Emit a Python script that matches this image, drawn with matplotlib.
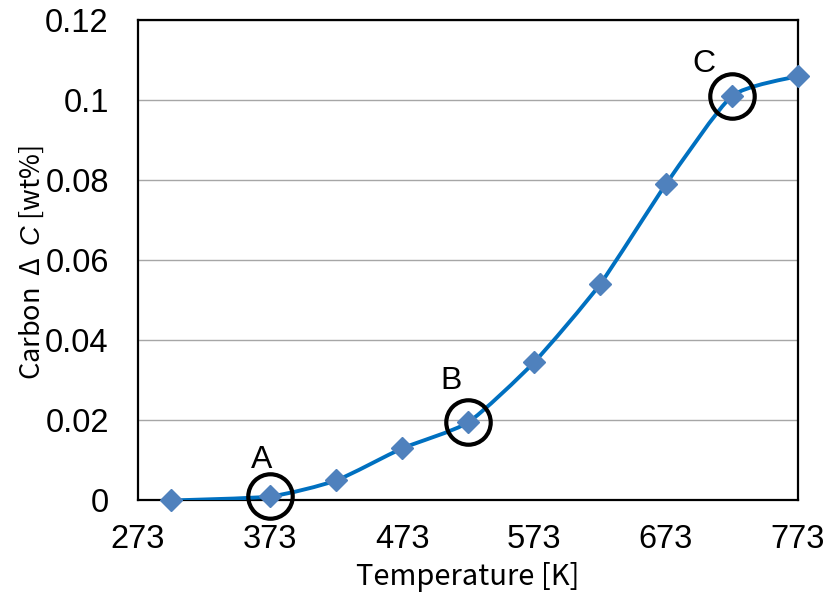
import matplotlib
matplotlib.use("Agg")
import matplotlib.pyplot as plt
from matplotlib.path import Path
from matplotlib.patches import PathPatch
import numpy as np

# Carbon uptake versus temperature
temperature = [298, 373, 423, 473, 523, 573, 623, 673, 723, 773]
carbon = [0.0, 0.001, 0.005, 0.013, 0.0195, 0.0345, 0.054, 0.079, 0.101, 0.106]

# Highlighted states
mark_labels = ["A", "B", "C"]
mark_temp = [373, 523, 723]
mark_carbon = [0.001, 0.0195, 0.101]

x_ticks = [273, 373, 473, 573, 673, 773]
y_ticks = [0, 0.02, 0.04, 0.06, 0.08, 0.1, 0.12]
y_tick_labels = ["0", "0.02", "0.04", "0.06", "0.08", "0.1", "0.12"]

plt.rcParams["mathtext.fontset"] = "custom"
plt.rcParams["mathtext.it"] = "Liberation Sans:italic"
plt.rcParams["mathtext.rm"] = "Noto Sans CJK JP"

LINE = "#0070C0"
MARK = "#4F81BD"

fig = plt.figure(figsize=(8.30, 6.03), dpi=100)
ax = fig.add_axes([0.1663, 0.170, 0.7951, 0.7968])

# Lightly smoothed connecting curve (cubic Bezier segments)
pts = np.column_stack([temperature, carbon]).astype(float)
verts = [tuple(pts[0])]
codes = [Path.MOVETO]
n = len(pts)
k = 1.0 / 10.0
for i in range(n - 1):
    p0 = pts[i - 1] if i > 0 else pts[i]
    p1 = pts[i]
    p2 = pts[i + 1]
    p3 = pts[i + 2] if i + 2 < n else pts[i + 1]
    c1 = p1 + (p2 - p0) * k
    c2 = p2 - (p3 - p1) * k
    verts += [tuple(c1), tuple(c2), tuple(p2)]
    codes += [Path.CURVE4, Path.CURVE4, Path.CURVE4]
ax.add_patch(PathPatch(Path(verts, codes), fill=False, edgecolor=LINE,
                       linewidth=2.8, zorder=3, capstyle="round", joinstyle="round"))

ax.plot(temperature, carbon, linestyle="none", marker="D", markersize=11,
        color=MARK, markeredgecolor=MARK, zorder=4, clip_on=False)

ax.plot(mark_temp, mark_carbon, linestyle="none", marker="o", markersize=32,
        markerfacecolor="none", markeredgecolor="black", markeredgewidth=3,
        zorder=5, clip_on=False)
label_offsets = [(-6, 0.0090), (-13, 0.0103), (-21, 0.0081)]
for lab, tx, cy, (dx, dy) in zip(mark_labels, mark_temp, mark_carbon, label_offsets):
    ax.text(tx + dx, cy + dy, lab, fontsize=23, family="Liberation Sans",
            ha="center", va="center", zorder=6)

ax.set_xlim(273, 773)
ax.set_ylim(0, 0.12)
ax.set_xticks(x_ticks)
ax.set_yticks(y_ticks)
ax.set_yticklabels(y_tick_labels)
ax.tick_params(axis="x", length=0, labelsize=23.5, pad=17)
ax.tick_params(axis="y", length=0, labelsize=23.5, pad=21)
for lbl in ax.get_xticklabels() + ax.get_yticklabels():
    lbl.set_family("Liberation Sans")

ax.grid(axis="y", color="#a6a6a6", linewidth=1.0, zorder=0)
ax.set_axisbelow(True)
for sp in ax.spines.values():
    sp.set_color("black")
    sp.set_linewidth(1.6)

ax.set_xlabel("Temperature [K]", fontsize=21, family="Noto Sans CJK JP", labelpad=5)
ax.set_ylabel("Carbon  Δ  $C$ [wt%]", fontsize=19.5, family="Noto Sans CJK JP")
ax.yaxis.set_label_coords(-0.14, 0.496)

fig.savefig("out.png", dpi=100)
